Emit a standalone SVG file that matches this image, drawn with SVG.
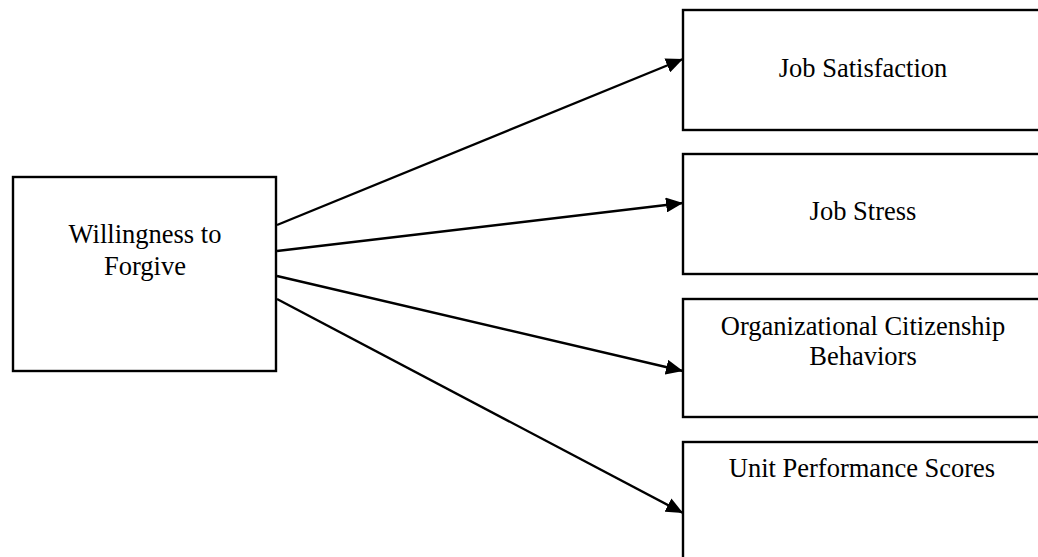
<svg xmlns="http://www.w3.org/2000/svg" width="1038" height="557" viewBox="0 0 1038 557">
<style>
.box{fill:#fff;stroke:#000;stroke-width:2.4}
.lbl{font-family:"Liberation Serif","Times New Roman",serif;font-size:26.5px;fill:#000;text-anchor:middle}
.conn{fill:none;stroke:#000;stroke-width:2.4}
</style>
<defs>
<marker id="arr" viewBox="0 0 17 15" refX="17" refY="7.5" markerWidth="17" markerHeight="15" markerUnits="userSpaceOnUse" orient="auto">
<path d="M0,0 L17,7.5 L0,15 Z" fill="#000"/>
</marker>
</defs>
<rect width="1038" height="557" fill="#fff"/>
<g id="willingness">
<rect class="box" x="13" y="177" width="263" height="194"/>
<text class="lbl" x="145" y="243">Willingness to</text>
<text class="lbl" x="145" y="275">Forgive</text>
</g>
<g id="job-satisfaction">
<rect class="box" x="683" y="10" width="370" height="120"/>
<text class="lbl" x="863" y="77">Job Satisfaction</text>
</g>
<g id="job-stress">
<rect class="box" x="683" y="154" width="370" height="120"/>
<text class="lbl" x="863" y="220">Job Stress</text>
</g>
<g id="ocb">
<rect class="box" x="683" y="299" width="370" height="118"/>
<text class="lbl" x="863" y="335">Organizational Citizenship</text>
<text class="lbl" x="863" y="365">Behaviors</text>
</g>
<g id="unit-performance">
<rect class="box" x="683" y="442" width="370" height="130"/>
<text class="lbl" x="862" y="477">Unit Performance Scores</text>
</g>
<g id="connectors">
<line class="conn" x1="277" y1="225" x2="683" y2="59" marker-end="url(#arr)"/>
<line class="conn" x1="277" y1="251" x2="683" y2="203" marker-end="url(#arr)"/>
<line class="conn" x1="277" y1="276" x2="683" y2="371" marker-end="url(#arr)"/>
<line class="conn" x1="277" y1="299" x2="683" y2="513" marker-end="url(#arr)"/>
</g>
</svg>
